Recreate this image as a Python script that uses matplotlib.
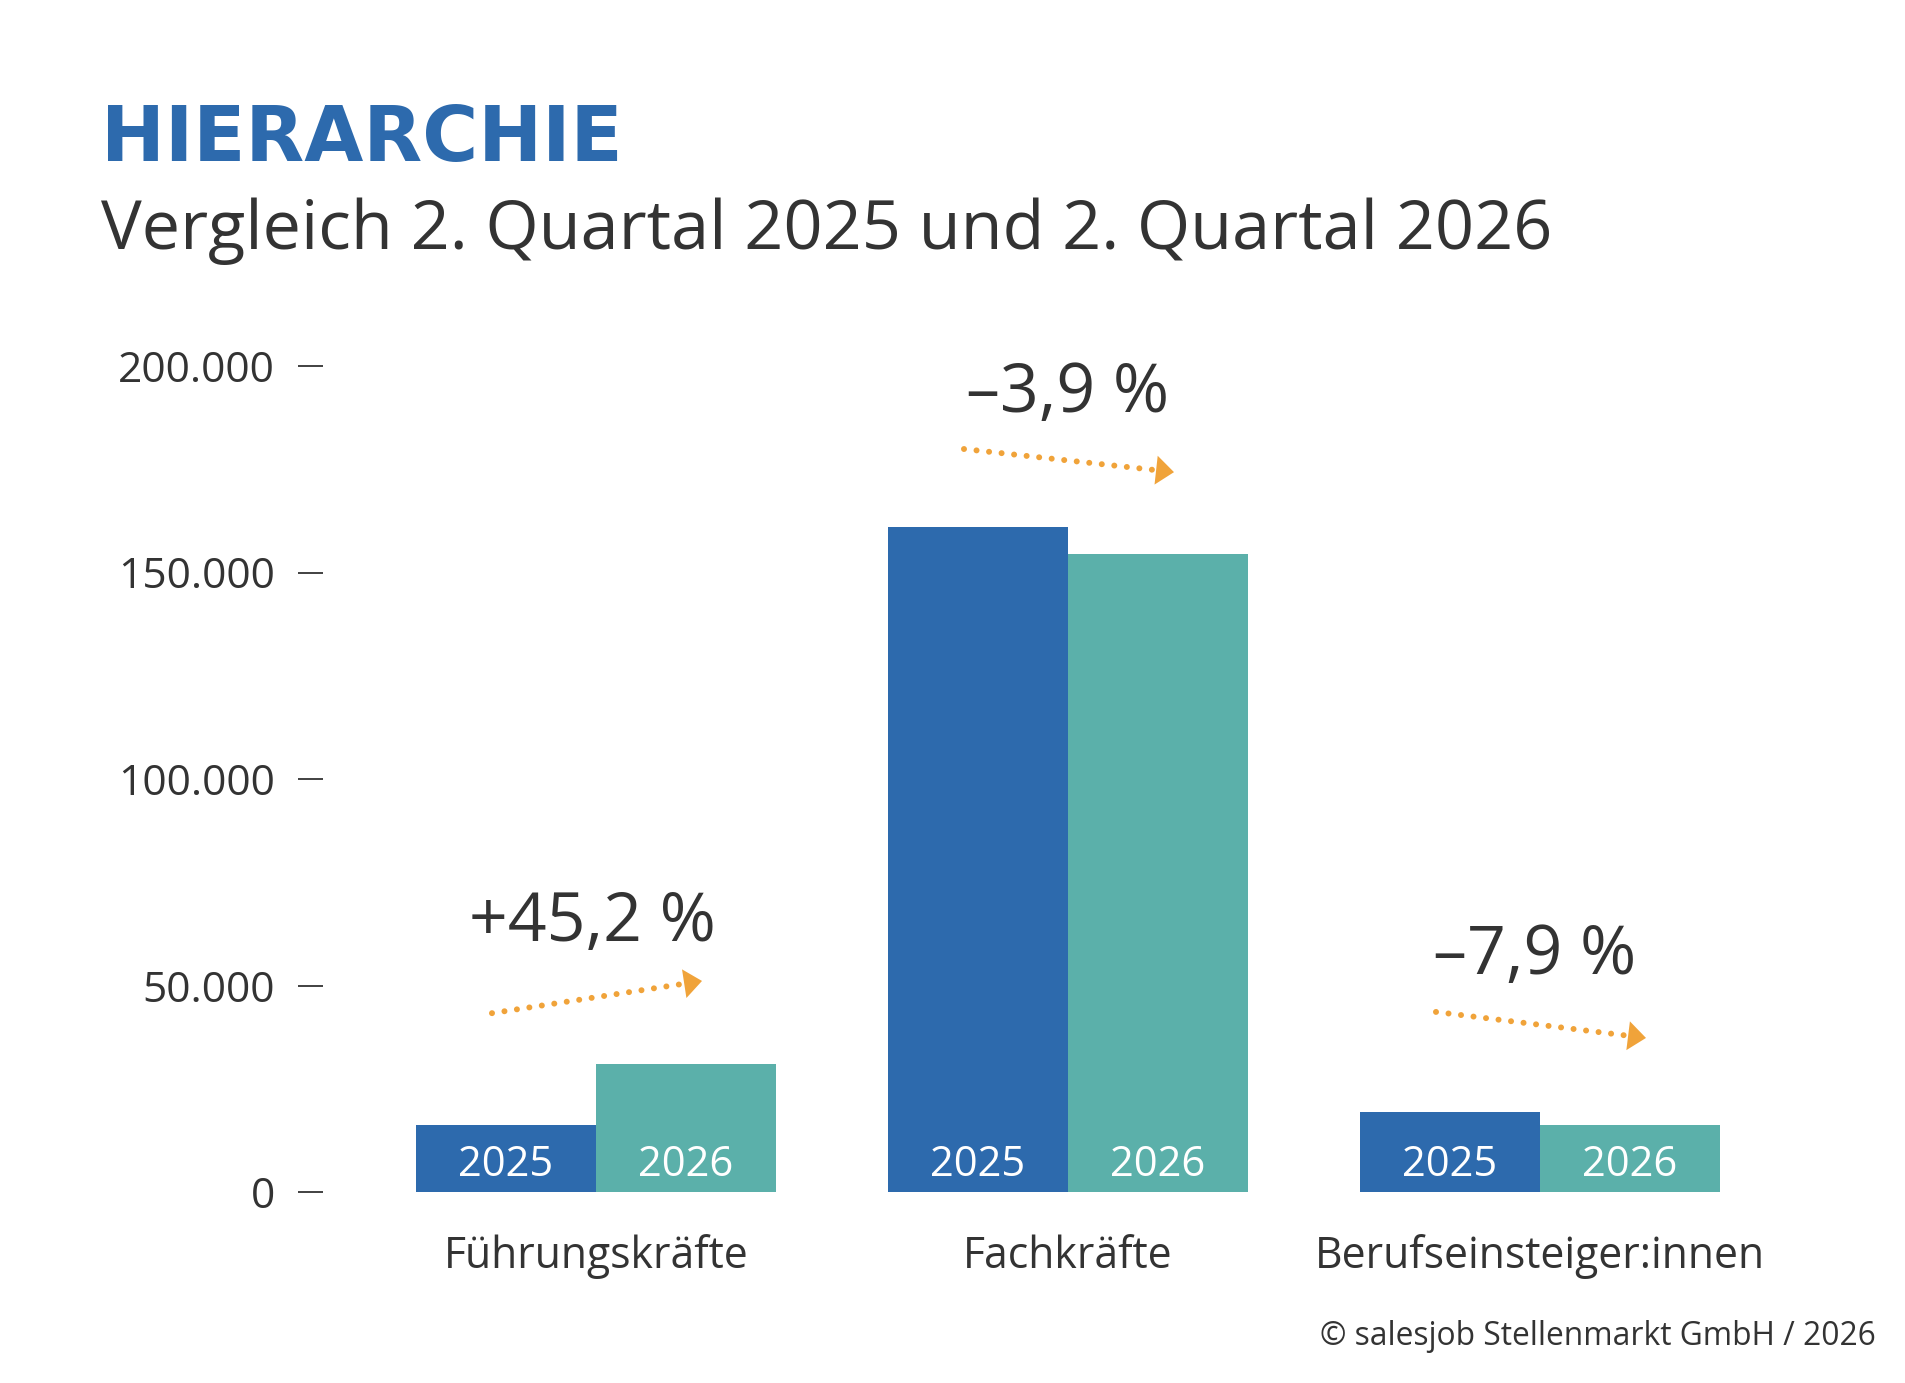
import matplotlib
matplotlib.use('Agg')
import numpy as np
import matplotlib.pyplot as plt
from matplotlib.patches import Polygon
from matplotlib.transforms import IdentityTransform, blended_transform_factory

# ---------------- data ----------------
categories = ['Führungskräfte', 'Fachkräfte', 'Berufseinsteiger:innen']
years = ['2025', '2026']
values_2025 = [16200, 161000, 19400]
values_2026 = [31000, 154500, 16200]
changes = ['+45,2 %', '–3,9 %', '–7,9 %']
yticks = [0, 50000, 100000, 150000, 200000]
ytick_labels = ['0', '50.000', '100.000', '150.000', '200.000']

title = 'HIERARCHIE'
subtitle = 'Vergleich 2. Quartal 2025 und 2. Quartal 2026'
source = '© salesjob Stellenmarkt GmbH / 2026'

# ---------------- layout / style ----------------
W, H, DPI = 1906, 1383, 100
BLUE = '#2d6aad'
TEAL = '#5bb0aa'
ORANGE = '#f0a33a'
TEXT = '#333333'
FONT = 'Open Sans'

label_y = [60800, 188900, 52800]          # baseline of change labels (data units)
label_dx = [-0.008, 0.0, -0.012]
arrow_y0 = [43300, 179900, 43600]         # arrow start height
arrow_y1 = [51100, 174300, 37300]         # arrow tip height
bar_w = 0.381
bar_base = -1200

fig = plt.figure(figsize=(W / DPI, H / DPI), dpi=DPI)
fig.patch.set_facecolor('white')
ax = fig.add_axes([323 / W, (H - 1192) / H, 1500 / W, (1192 - 366) / H])
ax.set_xlim(-0.578, 2.6)
ax.set_ylim(0, 200000)
for s in ax.spines.values():
    s.set_visible(False)

x = np.arange(len(categories))
ax.bar(x - bar_w / 2, np.array(values_2025) - bar_base, bottom=bar_base,
       width=bar_w, color=BLUE, linewidth=0)
ax.bar(x + bar_w / 2, np.array(values_2026) - bar_base, bottom=bar_base,
       width=bar_w, color=TEAL, linewidth=0)

for i in x:
    ax.text(i - bar_w / 2, 3900, years[0], ha='center', va='baseline',
            color='white', fontsize=30, family=FONT)
    ax.text(i + bar_w / 2, 3900, years[1], ha='center', va='baseline',
            color='white', fontsize=30, family=FONT)

# y axis
ax.set_yticks(yticks, ytick_labels)
ax.set_xticks([])
ax.tick_params(axis='y', length=18, width=1.3, color=TEXT, pad=16.6,
               labelsize=30.6, labelcolor=TEXT)
for lab in ax.get_yticklabels():
    lab.set_family(FONT)

# category labels
trans = blended_transform_factory(ax.transData, fig.transFigure)
for i, c in enumerate(categories):
    ax.text(i, (H - 1268) / H, c, ha='center', va='baseline', fontsize=30.8,
            family=FONT, color=TEXT, transform=trans, clip_on=False)

# change labels + dotted arrows
fig.canvas.draw()
for i, lab in enumerate(changes):
    ax.text(i + label_dx[i], label_y[i], lab, ha='center', va='baseline',
            fontsize=49, family=FONT, color=TEXT, clip_on=False)
    p0 = ax.transData.transform((i - 0.22, arrow_y0[i]))
    p1 = ax.transData.transform((i + 0.225, arrow_y1[i]))
    d = p1 - p0
    u = d / np.hypot(*d)
    nrm = np.array([-u[1], u[0]])
    base = p1 - 18 * u
    line_end = base - 4 * u
    q0, q1 = ax.transData.inverted().transform([p0, line_end])
    ax.plot([q0[0], q1[0]], [q0[1], q1[1]], color=ORANGE, lw=4.3,
            linestyle=(0, (0.01, 2.1)), dash_capstyle='round', clip_on=False)
    tri = np.array([p1, base + 14.5 * nrm, base - 14.5 * nrm])
    ax.add_patch(Polygon(tri, closed=True, facecolor=ORANGE, edgecolor='none',
                         transform=IdentityTransform(), clip_on=False))

# titles
fig.text(101 / W, (H - 161) / H, title, fontsize=55, fontweight='bold',
         family='DejaVu Sans', color=BLUE, va='baseline')
fig.text(101 / W, (H - 249) / H, subtitle, fontsize=49.2, family=FONT,
         color=TEXT, va='baseline')
fig.text(1876 / W, (H - 1345) / H, source, fontsize=22.9, family=FONT,
         color=TEXT, va='baseline', ha='right')

fig.savefig('out.png', dpi=DPI, facecolor='white')
